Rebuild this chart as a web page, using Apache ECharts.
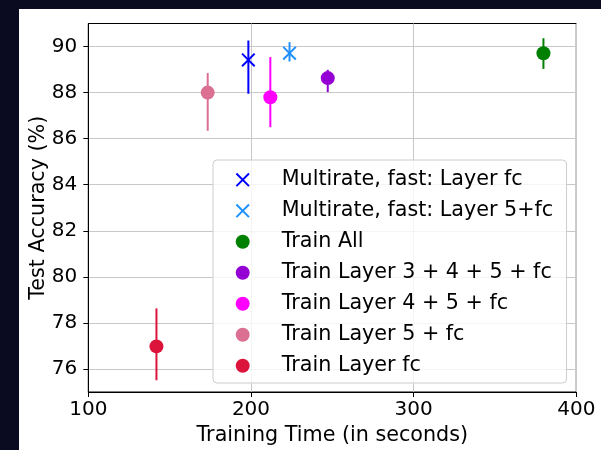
<!DOCTYPE html>
<html>
<head>
<meta charset="utf-8">
<script src="https://cdn.jsdelivr.net/npm/echarts@6/dist/echarts.min.js"></script>
<style>
  html, body { margin: 0; padding: 0; background: #0a0b21; width: 601px; height: 450px; overflow: hidden; }
  #chart { position: absolute; left: 19px; top: 9px; width: 582px; height: 441px; background: #ffffff; }
</style>
</head>
<body>
<div id="chart"></div>
<script>
// ---- data ----
const seriesNames = [
  'Multirate, fast: Layer fc',
  'Multirate, fast: Layer 5+fc',
  'Train All',
  'Train Layer 3 + 4 + 5 + fc',
  'Train Layer 4 + 5 + fc',
  'Train Layer 5 + fc',
  'Train Layer fc'
];
const trainingTime = [198.4, 223.7, 379.8, 247.2, 211.9, 173.4, 141.9];
const testAccuracy = [89.42, 89.71, 89.71, 88.63, 87.80, 88.00, 76.98];
const accuracyLow  = [87.95, 89.35, 89.03, 88.02, 86.50, 86.34, 75.51];
const accuracyHigh = [90.26, 90.19, 90.36, 88.99, 89.54, 88.85, 78.63];
const markerKinds  = ['x', 'x', 'o', 'o', 'o', 'o', 'o'];
const colors = ['#0000ff', '#1e90ff', '#008000', '#9400d3', '#ff00ff', '#db7093', '#dc143c'];
const xTicks = [100, 200, 300, 400];
const yTicks = [76, 78, 80, 82, 84, 86, 88, 90];

const FONT = 'DejaVu Sans';
const TXT = 20.7;
const TICK = 20;
const X_PATH = 'path://M0,1.4L1.4,0L14,12.6L12.6,14Z M12.6,0L14,1.4L1.4,14L0,12.6Z';

const series = [];
seriesNames.forEach((name, i) => {
  series.push({
    name: name + ' err',
    type: 'custom',
    z: 2,
    silent: true,
    data: [[trainingTime[i], accuracyLow[i], accuracyHigh[i]]],
    encode: { x: 0, y: [1, 2] },
    renderItem: function (params, api) {
      const p1 = api.coord([api.value(0), api.value(1)]);
      const p2 = api.coord([api.value(0), api.value(2)]);
      return {
        type: 'line',
        shape: { x1: p1[0], y1: p1[1], x2: p2[0], y2: p2[1] },
        style: { stroke: colors[i], lineWidth: 2 }
      };
    }
  });
  series.push({
    name: name,
    type: 'scatter',
    z: 3,
    symbol: markerKinds[i] === 'x' ? X_PATH : 'circle',
    symbolKeepAspect: true,
    symbolSize: 14,
    itemStyle: { color: colors[i], opacity: 1 },
    data: [[trainingTime[i], testAccuracy[i]]]
  });
});

const chart = echarts.init(document.getElementById('chart'), null, { renderer: 'canvas' });
chart.setOption({
  backgroundColor: '#ffffff',
  animation: false,
  grid: {
    left: 69.3, top: 14.5, right: 24.7, bottom: 58,
    show: true, borderColor: '#000000', borderWidth: 1,
    outerBoundsMode: 'none'
  },
  xAxis: {
    type: 'value',
    min: xTicks[0], max: xTicks[xTicks.length - 1], interval: 100,
    name: 'Training Time (in seconds)',
    nameLocation: 'middle', nameGap: 33, nameMoveOverlap: false,
    nameTextStyle: { fontFamily: FONT, fontSize: TXT, color: '#000' },
    axisLine: { show: true, lineStyle: { color: '#000', width: 1 } },
    axisTick: { show: true, length: 5, lineStyle: { color: '#000', width: 1 } },
    axisLabel: { margin: 8, fontFamily: FONT, fontSize: TICK, color: '#000' },
    splitLine: { show: true, lineStyle: { color: '#c8c8c8', width: 1 } }
  },
  yAxis: {
    type: 'value',
    min: 75, max: 91,
    name: 'Test Accuracy (%)',
    nameLocation: 'middle', nameGap: 39, nameMoveOverlap: false,
    nameTextStyle: { fontFamily: FONT, fontSize: TXT, color: '#000' },
    axisLine: { show: true, lineStyle: { color: '#000', width: 1 } },
    axisTick: { show: true, length: 5, lineStyle: { color: '#000', width: 1 }, customValues: yTicks },
    axisLabel: { margin: 11, fontFamily: FONT, fontSize: TICK, color: '#000', customValues: yTicks },
    splitLine: { show: true, lineStyle: { color: '#c8c8c8', width: 1 } }
  },
  legend: {
    orient: 'vertical',
    left: 194, top: 151,
    data: seriesNames,
    itemWidth: 14, itemHeight: 14,
    itemGap: 10,
    padding: [9.3, 13.3, 6.7, 22.7],
    backgroundColor: 'rgba(255,255,255,0.8)',
    borderColor: '#cccccc', borderWidth: 1, borderRadius: 4,
    selectedMode: false,
    z: 6,
    textStyle: { fontFamily: FONT, fontSize: TXT, color: '#000', lineHeight: 20,
      width: 270, padding: [0, 0, 0, 27] }
  },
  series: series
});
</script>
</body>
</html>
